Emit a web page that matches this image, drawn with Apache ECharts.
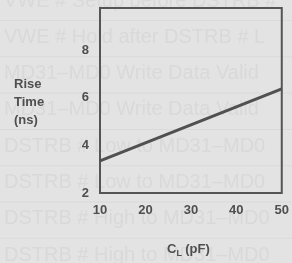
<!DOCTYPE html>
<html>
<head>
<meta charset="utf-8">
<script src="https://cdn.jsdelivr.net/npm/echarts@6/dist/echarts.min.js"></script>
<style>
  html, body { margin: 0; padding: 0; background: #e3e3e3; }
  #rise_time { width: 292px; height: 263px; }
</style>
</head>
<body>
<div id="rise_time"></div>
<script>
// load capacitance (pF) vs rise time (ns)
var loads = [10, 50];
var riseTimes = [3.35, 6.37];
var xTicks = [10, 20, 30, 40, 50];
var yTicks = [2, 4, 6, 8];

// faint show-through text from the other side of the page
var ghostRows = [
    'VWE # Setup before DSTRB #',
    'VWE # Hold after DSTRB # L',
    'MD31\u2013MD0 Write Data Valid',
    'MD31\u2013MD0 Write Data Valid',
    'DSTRB # Low to MD31\u2013MD0',
    'DSTRB # Low to MD31\u2013MD0',
    'DSTRB # High to MD31\u2013MD0',
    'DSTRB # High to MD31\u2013MD0'
];

function rise_time_chart(){
    var data = [];
    for(var i = 0; i < loads.length; i++){
        data.push([loads[i], riseTimes[i]]);
    }
    var ink = '#4f4f4f';
    var font = 'Liberation Sans, Arial, sans-serif';

    var graphics = [];
    for(var j = 0; j < ghostRows.length; j++){
        graphics.push({
            type: 'text',
            left: 4,
            top: -9 + j * 36.3,
            z: -10,
            silent: true,
            style: {
                text: ghostRows[j],
                fill: '#d9d9d9',
                font: '20px ' + font
            }
        });
        graphics.push({
            type: 'rect',
            left: 0,
            top: 20 + j * 36.3,
            z: -10,
            silent: true,
            shape: { width: 292, height: 1 },
            style: { fill: '#dadada' }
        });
    }
    graphics.push({
        type: 'text',
        left: 14,
        top: 75,
        style: {
            text: 'Rise\nTime\n(ns)',
            fill: ink,
            font: 'bold 13px ' + font,
            lineHeight: 18
        }
    });
    graphics.push({
        type: 'text',
        left: 167,
        top: 243,
        style: {
            text: '{c|C}{s|L} {c|(pF)}',
            rich: {
                c: { fill: ink, fontSize: 13, fontWeight: 'bold', fontFamily: font },
                s: { fill: ink, fontSize: 9, fontWeight: 'bold', fontFamily: font, padding: [8, 0, 0, 0] }
            }
        }
    });

    var myChart = echarts.init(document.getElementById('rise_time'));
    var option = {
        backgroundColor: '#e3e3e3',
        animation: false,
        graphic: graphics,
        grid: {
            left: 100,
            right: 5,
            top: 8,
            bottom: 70,
            show: true,
            borderColor: '#555555',
            borderWidth: 2,
            backgroundColor: 'transparent'
        },
        xAxis: {
            type: 'value',
            min: 10,
            max: 50,
            interval: 10,
            axisLine: { show: false },
            axisTick: { show: false },
            splitLine: { show: false },
            axisLabel: {
                margin: 11,
                color: ink,
                fontSize: 13,
                fontWeight: 'bold',
                fontFamily: font,
                formatter: function (v) { return xTicks.indexOf(v) >= 0 ? String(v) : ''; }
            }
        },
        yAxis: {
            type: 'value',
            min: 2,
            max: 9.77,
            interval: 2,
            axisLine: { show: false },
            axisTick: { show: false },
            splitLine: { show: false },
            axisLabel: {
                margin: 11,
                color: ink,
                fontSize: 13,
                fontWeight: 'bold',
                fontFamily: font,
                showMaxLabel: false,
                formatter: function (v) { return yTicks.indexOf(v) >= 0 ? String(v) : ''; }
            }
        },
        series: [
            {
                name: 'Rise Time',
                type: 'line',
                data: data,
                symbol: 'none',
                lineStyle: { color: '#505050', width: 3 }
            }
        ]
    };
    myChart.setOption(option);
}

rise_time_chart();
</script>
</body>
</html>
